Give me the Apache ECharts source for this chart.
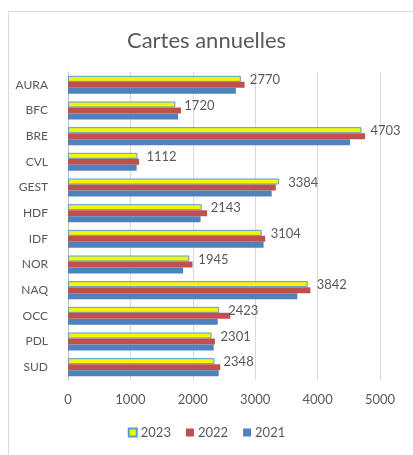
<!DOCTYPE html>
<html>
<head>
<meta charset="utf-8">
<script src="https://cdn.jsdelivr.net/npm/echarts@6/dist/echarts.min.js"></script>
<style>
  html, body { margin: 0; padding: 0; background: #fff; }
  #chart { width: 413px; height: 455px; }
</style>
</head>
<body>
<div id="chart"></div>
<script>
// données
const regions = ['AURA', 'BFC', 'BRE', 'CVL', 'GEST', 'HDF', 'IDF', 'NOR', 'NAQ', 'OCC', 'PDL', 'SUD']
const val2023 = [2770, 1720, 4703, 1112, 3384, 2143, 3104, 1945, 3842, 2423, 2301, 2348]
const val2022 = [2830, 1810, 4760, 1140, 3330, 2230, 3160, 1995, 3885, 2600, 2355, 2440]
const val2021 = [2690, 1765, 4520, 1100, 3265, 2125, 3135, 1845, 3675, 2400, 2335, 2415]
const xTicks = [0, 1000, 2000, 3000, 4000, 5000]

const textColor = '#595959'
const fontFam = 'Lato, "Open Sans", sans-serif'

const myChart = echarts.init(document.getElementById('chart'))
const option = {
  animation: false,
  backgroundColor: '#fff',
  textStyle: { fontFamily: fontFam },
  title: {
    text: 'Cartes annuelles',
    left: 'center',
    top: 25,
    textStyle: { color: textColor, fontSize: 22, fontWeight: 'normal', fontFamily: fontFam }
  },
  graphic: [
    {
      type: 'rect',
      shape: { x: 8.5, y: 11.5, width: 420, height: 460 },
      style: { fill: 'none', stroke: '#d9d9d9', lineWidth: 1 },
      silent: true
    }
  ],
  legend: {
    bottom: 11,
    left: 'center',
    itemWidth: 8,
    itemHeight: 8,
    itemGap: 15,
    icon: 'rect',
    textStyle: { color: textColor, fontSize: 13, fontFamily: fontFam, padding: [0, 0, 0, -1] },
    data: ['2023', '2022', '2021']
  },
  grid: {
    left: 68,
    right: 33,
    top: 72,
    bottom: 75
  },
  xAxis: {
    type: 'value',
    min: xTicks[0],
    max: xTicks[xTicks.length - 1],
    interval: 1000,
    axisLine: { show: false },
    axisTick: { show: false },
    axisLabel: { color: textColor, fontSize: 13, margin: 13, formatter: v => String(v) },
    splitLine: { lineStyle: { color: '#d9d9d9' } }
  },
  yAxis: {
    type: 'category',
    inverse: true,
    data: regions,
    axisLine: { show: true, lineStyle: { color: '#bfbfbf' } },
    axisTick: { show: false },
    axisLabel: { color: textColor, fontSize: 12, margin: 20 }
  },
  series: [
    {
      name: '2023',
      type: 'bar',
      data: val2023,
      barWidth: 6,
      barGap: '0%',
      itemStyle: { color: '#f5f500', borderColor: '#5b9bd5', borderWidth: 1 },
      label: {
        show: true,
        position: 'right',
        distance: 9,
        offset: [0, 1],
        color: textColor,
        fontSize: 13
      }
    },
    {
      name: '2022',
      type: 'bar',
      data: val2022,
      barWidth: 6,
      barGap: '0%',
      itemStyle: { color: '#c0504d' }
    },
    {
      name: '2021',
      type: 'bar',
      data: val2021,
      barWidth: 6,
      barGap: '0%',
      itemStyle: { color: '#4f81bd' }
    }
  ]
}
myChart.setOption(option)
</script>
</body>
</html>
